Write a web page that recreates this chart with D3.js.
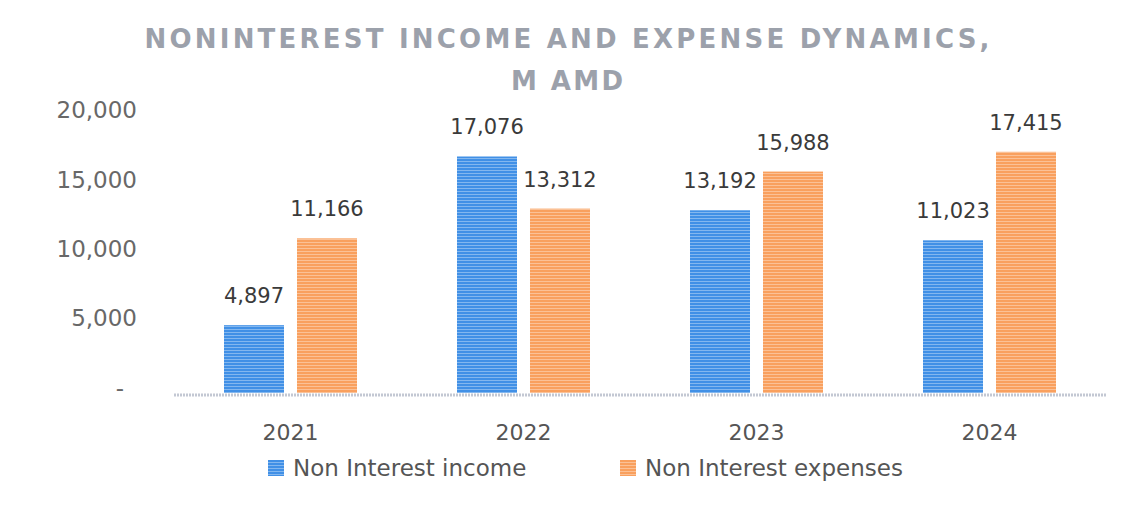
<!DOCTYPE html>
<html>
<head>
<meta charset="utf-8">
<script src="https://cdn.jsdelivr.net/npm/d3@7"></script>
<style>
  body { margin: 0; background: #ffffff; }
  svg { display: block; }
  text { font-family: "DejaVu Sans", sans-serif; }
</style>
</head>
<body>
<svg id="chart" width="1123" height="515"></svg>
<script>
// chart data
var years = ["2021", "2022", "2023", "2024"];
var seriesNames = ["Non Interest income", "Non Interest expenses"];
var incomeValues = [4897, 17076, 13192, 11023];
var expenseValues = [11166, 13312, 15988, 17415];
var yTicks = [0, 5000, 10000, 15000, 20000];
var titleLines = ["NONINTEREST INCOME AND EXPENSE DYNAMICS,", "M AMD"];

var colors = ["#4190e6", "#f9a05e"];

var svg = d3.select("#chart");

// stripe patterns to mimic the printed texture
var defs = svg.append("defs");
colors.forEach(function (c, i) {
  var p = defs.append("pattern").attr("id", "stripe" + i)
    .attr("patternUnits", "userSpaceOnUse").attr("width", 6).attr("height", 3);
  p.append("rect").attr("width", 6).attr("height", 3).attr("fill", c);
  p.append("rect").attr("y", 2).attr("width", 6).attr("height", 1)
    .attr("fill", "#ffffff").attr("opacity", 0.35);
});

// scales
var x0 = d3.scaleBand().domain(years).range([174, 1106]);
var x1 = d3.scaleBand().domain(seriesNames).range([0, 133]).paddingInner(0.178);
var groupOffset = (x0.bandwidth() - 133) / 2;
var y = d3.scaleLinear().domain([0, 20000]).range([393, 116]);

// title
svg.append("g").selectAll("text").data(titleLines).enter().append("text")
  .attr("x", 567).attr("y", function (d, i) { return 48 + i * 42; })
  .attr("text-anchor", "middle")
  .attr("font-size", 26).attr("font-weight", "bold")
  .attr("fill", "#9ca1ab")
  .attr("textLength", function (d, i) { return i === 0 ? 845 : 112; })
  .attr("lengthAdjust", "spacing")
  .text(function (d) { return d; });

// y axis
var yAxis = d3.axisLeft(y).tickValues(yTicks).tickSize(0).tickPadding(3)
  .tickFormat(function (d) { return d === 0 ? "-" : d3.format(",")(d); });
var yg = svg.append("g").attr("transform", "translate(140,0)").call(yAxis);
yg.select(".domain").remove();
yg.selectAll("text").attr("font-family", "DejaVu Sans").attr("font-size", 23)
  .attr("fill", "#686868").attr("dy", "0.08em");
yg.selectAll(".tick").filter(function (d) { return d === 0; }).select("text")
  .attr("x", -16).attr("dy", "0.1em");

// baseline
svg.append("line").attr("x1", 174).attr("x2", 1106)
  .attr("y1", y(0) + 2).attr("y2", y(0) + 2)
  .attr("stroke", "#c3c8d3").attr("stroke-width", 3).attr("stroke-dasharray", "2,1");

// x axis labels
var xAxis = d3.axisBottom(x0).tickSize(0).tickPadding(0);
var xg = svg.append("g").attr("transform", "translate(0,424)").call(xAxis);
xg.select(".domain").remove();
xg.selectAll("text").attr("font-family", "DejaVu Sans").attr("font-size", 22)
  .attr("fill", "#555555").attr("dy", "0.71em");

// bars
var rows = years.map(function (yr, i) {
  return { year: yr, values: [
    { name: seriesNames[0], value: incomeValues[i], k: 0 },
    { name: seriesNames[1], value: expenseValues[i], k: 1 }
  ] };
});

var groups = svg.append("g").selectAll("g").data(rows).enter().append("g")
  .attr("transform", function (d) { return "translate(" + (x0(d.year) + groupOffset) + ",0)"; });

groups.selectAll("rect").data(function (d) { return d.values; }).enter().append("rect")
  .attr("x", function (d) { return x1(d.name); })
  .attr("width", x1.bandwidth())
  .attr("y", function (d) { return y(d.value); })
  .attr("height", function (d) { return y(0) - y(d.value); })
  .attr("fill", function (d) { return "url(#stripe" + d.k + ")"; });

groups.selectAll(".val").data(function (d) { return d.values; }).enter().append("text")
  .attr("class", "val")
  .attr("x", function (d) { return x1(d.name) + x1.bandwidth() / 2; })
  .attr("y", function (d) { return y(d.value) - 22; })
  .attr("text-anchor", "middle")
  .attr("font-size", 21).attr("fill", "#3a3a3a")
  .text(function (d) { return d3.format(",")(d.value); });

// legend
var legendX = [268, 620];
var legend = svg.append("g").selectAll("g").data(seriesNames).enter().append("g")
  .attr("transform", function (d, i) { return "translate(" + legendX[i] + ",460)"; });
legend.append("rect").attr("width", 16).attr("height", 16)
  .attr("fill", function (d, i) { return "url(#stripe" + i + ")"; });
legend.append("text").attr("x", 25).attr("y", 16)
  .attr("font-size", 23).attr("fill", "#555555")
  .text(function (d) { return d; });
</script>
</body>
</html>
